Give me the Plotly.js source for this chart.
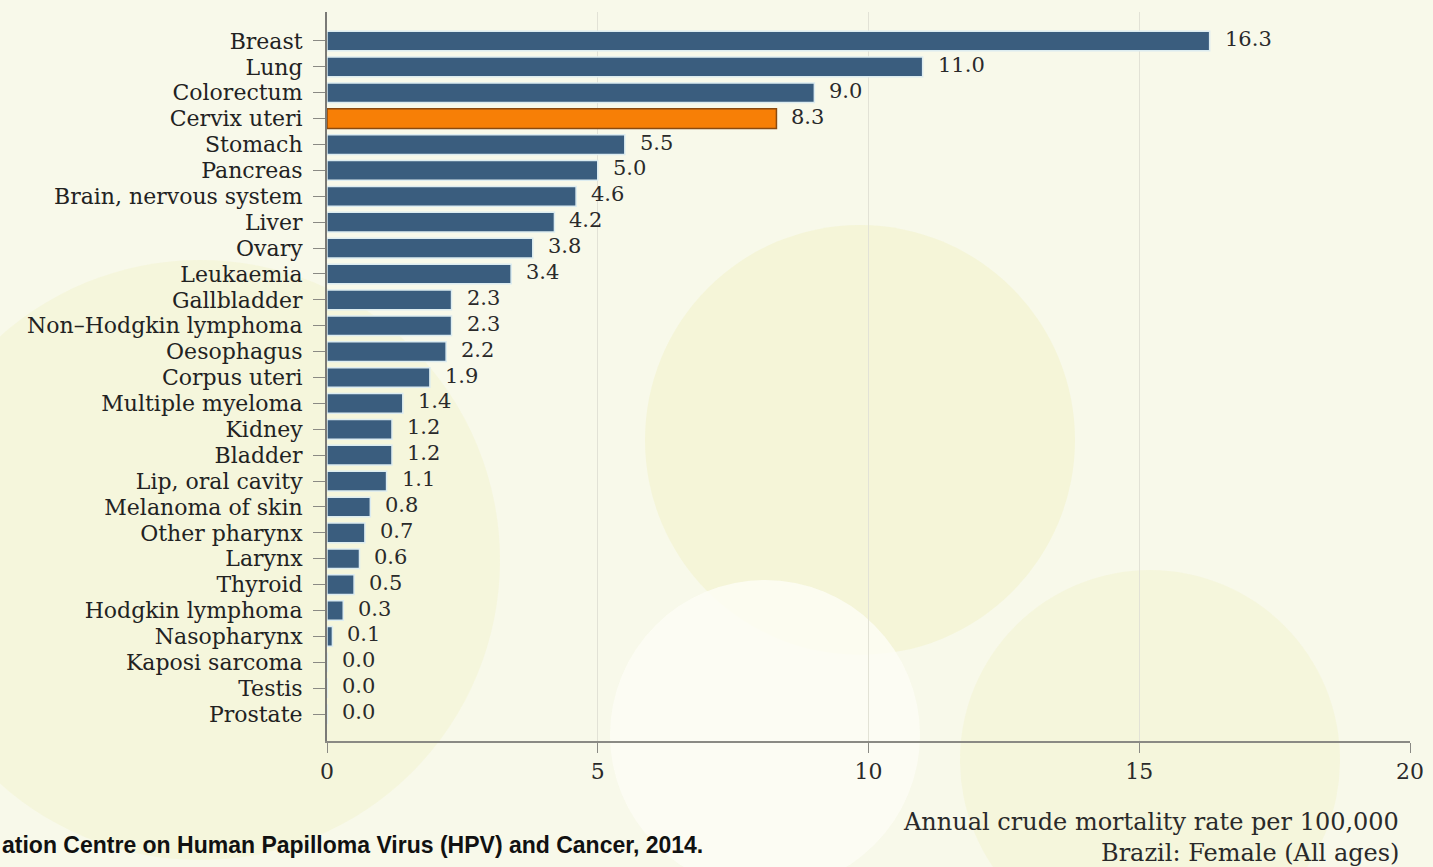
<!DOCTYPE html>
<html>
<head>
<meta charset="utf-8">
<script src="https://cdn.plot.ly/plotly-3.0.1.min.js"></script>
<style>html,body{margin:0;padding:0;background:#f8f9ea;}#chart{width:1433px;height:867px;}</style>
</head>
<body>
<div id="chart"></div>
<script>
const categories = ["Breast","Lung","Colorectum","Cervix uteri","Stomach","Pancreas","Brain, nervous system","Liver","Ovary","Leukaemia","Gallbladder","Non\u2013Hodgkin lymphoma","Oesophagus","Corpus uteri","Multiple myeloma","Kidney","Bladder","Lip, oral cavity","Melanoma of skin","Other pharynx","Larynx","Thyroid","Hodgkin lymphoma","Nasopharynx","Kaposi sarcoma","Testis","Prostate"];
const rates = [16.3,11.0,9.0,8.3,5.5,5.0,4.6,4.2,3.8,3.4,2.3,2.3,2.2,1.9,1.4,1.2,1.2,1.1,0.8,0.7,0.6,0.5,0.3,0.1,0.0,0.0,0.0];
const highlight = "Cervix uteri";
const xTicks = [0,5,10,15,20];
const axisTitle1 = "Annual crude mortality rate per 100,000";
const axisTitle2 = "Brazil: Female (All ages)";
const sourceText = "ation Centre on Human Papilloma Virus (HPV) and Cancer, 2014.";

const serif = "DejaVu Serif, Liberation Serif, serif";
const barColors = categories.map(c => c === highlight ? "#f77f06" : "#3a5d7e");
const lineColors = categories.map(c => c === highlight ? "#8a4a10" : "#dcecf0");

const W = 1433, H = 867, L = 327, R = 23, T = 12, B = 126;
const pw = W - L - R, ph = H - T - B;
function px(x){ return (x - L) / pw; }
function py(y){ return (H - B - y) / ph; }

const circles = [
  {cx: 860, cy: 440, r: 215, c: "rgba(240,240,190,0.4)"},
  {cx: 200, cy: 560, r: 300, c: "rgba(240,240,195,0.35)"},
  {cx: 1150, cy: 760, r: 190, c: "rgba(240,240,195,0.35)"},
  {cx: 765, cy: 735, r: 155, c: "rgba(253,253,245,0.85)"}
];
const shapes = circles.map(o => ({
  type: "circle", xref: "paper", yref: "paper", layer: "below",
  x0: px(o.cx - o.r), x1: px(o.cx + o.r), y0: py(o.cy + o.r), y1: py(o.cy - o.r),
  fillcolor: o.c, line: {width: 0}
}));

const annotations = categories.map((c, i) => ({
  x: rates[i], y: c, xref: "x", yref: "y",
  text: rates[i].toFixed(1), showarrow: false,
  xanchor: "left", yanchor: "middle", xshift: 13, yshift: 2,
  font: {family: serif, size: 21, color: "#2a2a2a"}
}));
annotations.push({
  xref: "paper", yref: "paper", x: px(1401), y: py(822), xanchor: "right", yanchor: "middle",
  text: axisTitle1, showarrow: false, font: {family: serif, size: 24, color: "#2a2a2a"}
});
annotations.push({
  xref: "paper", yref: "paper", x: px(1401), y: py(853), xanchor: "right", yanchor: "middle",
  text: axisTitle2, showarrow: false, font: {family: serif, size: 24, color: "#2a2a2a"}
});
annotations.push({
  xref: "paper", yref: "paper", x: px(0), y: py(845), xanchor: "left", yanchor: "middle",
  text: "<b>" + sourceText + "</b>", showarrow: false,
  font: {family: "Liberation Sans Narrow, Arial Narrow, Liberation Sans, sans-serif", size: 23, color: "#111"}
});

const trace = {
  type: "bar", orientation: "h",
  x: rates, y: categories,
  width: 0.76,
  marker: {color: barColors, line: {color: lineColors, width: 1.5}},
  hoverinfo: "x+y"
};

const layout = {
  width: W, height: H,
  margin: {l: L, r: R, t: T, b: B, pad: 0},
  paper_bgcolor: "#f8f9ea", plot_bgcolor: "rgba(0,0,0,0)",
  showlegend: false,
  xaxis: {
    range: [0, 20], tickmode: "array", tickvals: xTicks, ticktext: xTicks.map(String),
    showgrid: true, gridcolor: "#e2e2d6", gridwidth: 1,
    zeroline: false, showline: true, linecolor: "#8a8a84", linewidth: 2,
    ticks: "outside", ticklen: 10, tickcolor: "#8a8a84", tickwidth: 1,
    tickfont: {family: serif, size: 22, color: "#2a2a2a"},
    fixedrange: true
  },
  yaxis: {
    type: "category", categoryorder: "array", categoryarray: categories,
    tickmode: "array", tickvals: categories, ticktext: categories,
    range: [27.04, -1.12],
    showgrid: false, zeroline: false, showline: true, linecolor: "#7a7a76", linewidth: 2,
    ticks: "outside", ticklen: 12, tickcolor: "#8a8a84", tickwidth: 1,
    ticklabelstandoff: 6,
    tickfont: {family: serif, size: 22, color: "#222"},
    fixedrange: true
  },
  shapes: shapes,
  annotations: annotations
};

Plotly.newPlot("chart", [trace], layout, {displayModeBar: false, staticPlot: true});
</script>
</body>
</html>
